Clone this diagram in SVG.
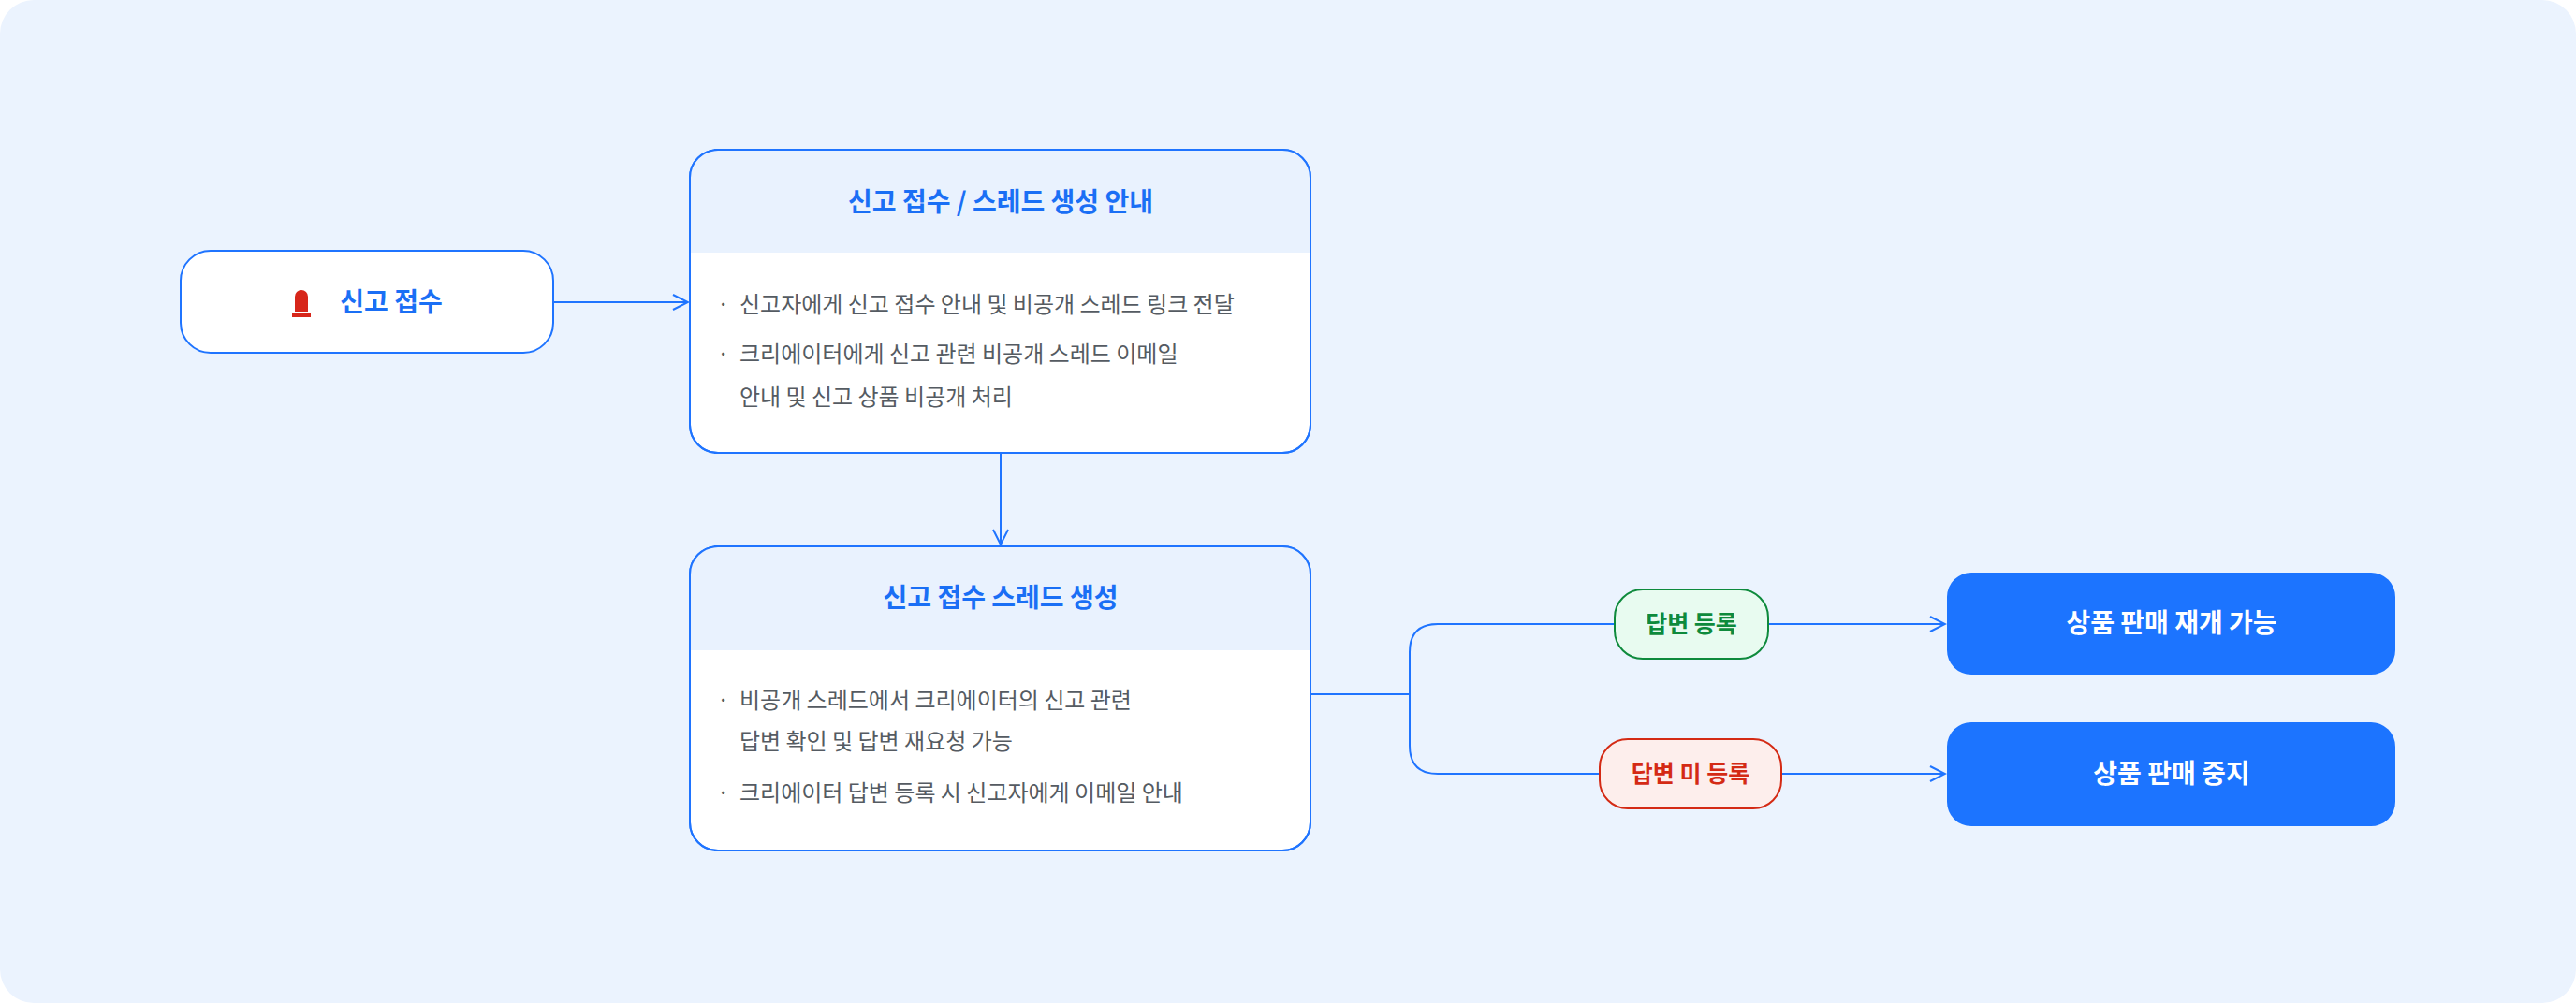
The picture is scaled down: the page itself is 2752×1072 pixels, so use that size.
<svg xmlns="http://www.w3.org/2000/svg" width="2752" height="1072" viewBox="0 0 2752 1072">
<defs>
<style>
.t{font-family:"Noto Sans CJK KR","Noto Sans",sans-serif}
.title{font-size:28px;font-weight:700;fill:#1a6ff5;text-anchor:middle}
.body{font-size:24px;fill:#555b62}
.box{fill:#fff;stroke:#1f74ff;stroke-width:2}
.conn{fill:none;stroke:#1f74ff;stroke-width:2}
.res{fill:#1c74ff}
.rt{font-size:28px;font-weight:700;fill:#fff;text-anchor:middle}
</style>
<marker id="ah" viewBox="0 0 20 20" refX="18" refY="10" markerWidth="20" markerHeight="20" markerUnits="userSpaceOnUse" orient="auto"><path d="M2 2 L18 10 L2 18" fill="none" stroke="#1f74ff" stroke-width="2"/></marker>
<clipPath id="c1"><rect x="737" y="160" width="663" height="324" rx="30"/></clipPath>
<clipPath id="c2"><rect x="737" y="584" width="663" height="325" rx="30"/></clipPath>
</defs>
<rect x="0" y="0" width="2752" height="1072" rx="36" fill="#ebf3fe"/>
<g id="connectors">
<path class="conn" d="M591 323 H735" marker-end="url(#ah)"/>
<path class="conn" d="M1069 484 V582" marker-end="url(#ah)"/>
<path class="conn" d="M1400 742 H1506 V697 Q1506 667 1536 667 H2078" marker-end="url(#ah)"/>
<path class="conn" d="M1506 742 V797 Q1506 827 1536 827 H2078" marker-end="url(#ah)"/>
</g>
<g id="n1">
<rect class="box" x="193" y="268" width="398" height="109" rx="32"/>
<path d="M315 333 V317 a7 7 0 0 1 14 0 V333 Z" fill="#d7261a"/>
<rect x="312" y="335" width="20" height="4" fill="#d7261a"/>
<text class="t title" x="418" y="333">신고 접수</text>
</g>
<g id="n2">
<rect class="box" x="737" y="160" width="663" height="324" rx="30"/>
<rect x="737" y="160" width="663" height="110" fill="#e9f2fe" clip-path="url(#c1)"/>
<rect x="737" y="160" width="663" height="324" rx="30" fill="none" stroke="#1f74ff" stroke-width="2"/>
<text class="t title" x="1069" y="226">신고 접수 / 스레드 생성 안내</text>
<text class="t body" x="766" y="334">·</text>
<text class="t body" x="790" y="334">신고자에게 신고 접수 안내 및 비공개 스레드 링크 전달</text>
<text class="t body" x="766" y="387">·</text>
<text class="t body" x="790" y="387">크리에이터에게 신고 관련 비공개 스레드 이메일</text>
<text class="t body" x="790" y="433">안내 및 신고 상품 비공개 처리</text>
</g>
<g id="n3">
<rect class="box" x="737" y="584" width="663" height="325" rx="30"/>
<rect x="737" y="584" width="663" height="111" fill="#e9f2fe" clip-path="url(#c2)"/>
<rect x="737" y="584" width="663" height="325" rx="30" fill="none" stroke="#1f74ff" stroke-width="2"/>
<text class="t title" x="1069" y="649">신고 접수 스레드 생성</text>
<text class="t body" x="766" y="757">·</text>
<text class="t body" x="790" y="757">비공개 스레드에서 크리에이터의 신고 관련</text>
<text class="t body" x="790" y="801">답변 확인 및 답변 재요청 가능</text>
<text class="t body" x="766" y="856">·</text>
<text class="t body" x="790" y="856">크리에이터 답변 등록 시 신고자에게 이메일 안내</text>
</g>
<g id="l1">
<rect x="1725" y="630" width="164" height="74" rx="30" fill="#e8fbf0" stroke="#0e8a3c" stroke-width="2"/>
<text class="t" x="1807" y="676" font-size="25" font-weight="700" fill="#0e8a3c" text-anchor="middle">답변 등록</text>
</g>
<g id="l2">
<rect x="1709" y="790" width="194" height="74" rx="30" fill="#fdeeec" stroke="#d42a14" stroke-width="2"/>
<text class="t" x="1806" y="836" font-size="25" font-weight="700" fill="#d42a14" text-anchor="middle">답변 미 등록</text>
</g>
<g id="r1">
<rect class="res" x="2080" y="612" width="479" height="109" rx="26"/>
<text class="t rt" x="2320" y="676">상품 판매 재개 가능</text>
</g>
<g id="r2">
<rect class="res" x="2080" y="772" width="479" height="111" rx="26"/>
<text class="t rt" x="2320" y="837">상품 판매 중지</text>
</g>
</svg>
